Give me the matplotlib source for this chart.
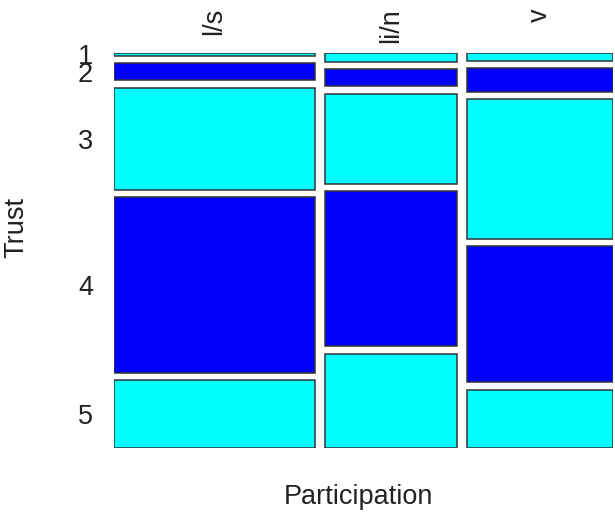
import numpy as np
import matplotlib
matplotlib.use("Agg")
import matplotlib.pyplot as plt
import matplotlib.transforms as mtransforms

# counts of Trust level (rows) within each Participation group (columns)
participation = ["l/s", "li/n", "v"]
trust = ["1", "2", "3", "4", "5"]
counts_ls = [1, 6, 36, 62, 24]
counts_lin = [2, 4, 21, 36, 22]
counts_v = [2, 6, 36, 35, 15]

colors = ["#00FFFF", "#0000FF", "#00FFFF", "#0000FF", "#00FFFF"]

plt.rcParams["font.family"] = ["Liberation Sans", "DejaVu Sans"]
txt = "#222222"
fs = 19.5

W, H = 615, 512
fig = plt.figure(figsize=(W / 100, H / 100), dpi=100)
ax = fig.add_axes([114 / W, (H - 448) / H, (613 - 114) / W, (448 - 53) / H])

table = np.array([counts_ls, counts_lin, counts_v], dtype=float)
col_tot = table.sum(axis=1)

xgap = 10 / 499.0
ygap = 7.5 / 395.0
ncol, nrow = table.shape

col_w = col_tot / col_tot.sum() * (1 - xgap * (ncol - 1))
col_left = np.concatenate([[0], np.cumsum(col_w + xgap)[:-1]])

row_centers = None
for j in range(ncol):
    h = table[j] / col_tot[j] * (1 - ygap * (nrow - 1))
    tops = np.concatenate([[0], np.cumsum(h + ygap)[:-1]])
    ax.bar(np.full(nrow, col_left[j]), h, width=col_w[j], bottom=tops,
           align="edge", color=colors, edgecolor="#333333", linewidth=1.1)
    if j == 0:
        row_centers = tops + h / 2

ax.set_xlim(0, 1)
ax.set_ylim(1, 0)
for s in ax.spines.values():
    s.set_visible(False)

# column labels, rotated, hanging from near the top edge
ax.set_xticks([])
trans = mtransforms.blended_transform_factory(ax.transData, fig.transFigure)
for xc, lab in zip(col_left + col_w / 2, participation):
    ax.text(xc, 1 - 8 / H, lab, rotation=90, ha="center", va="top",
            fontsize=fs, color=txt, transform=trans)

ax.set_yticks(row_centers)
ax.set_yticklabels(trust, fontsize=fs, color=txt)
ax.tick_params(length=0)
ax.tick_params(axis="y", pad=15)

fig.text(358 / W, 1 - 497 / H, "Participation", ha="center", va="center",
         fontsize=fs, color=txt)
fig.text(16 / W, 1 - 228 / H, "Trust", ha="center", va="center",
         rotation=90, fontsize=fs, color=txt)

fig.savefig("out.png", dpi=100)
